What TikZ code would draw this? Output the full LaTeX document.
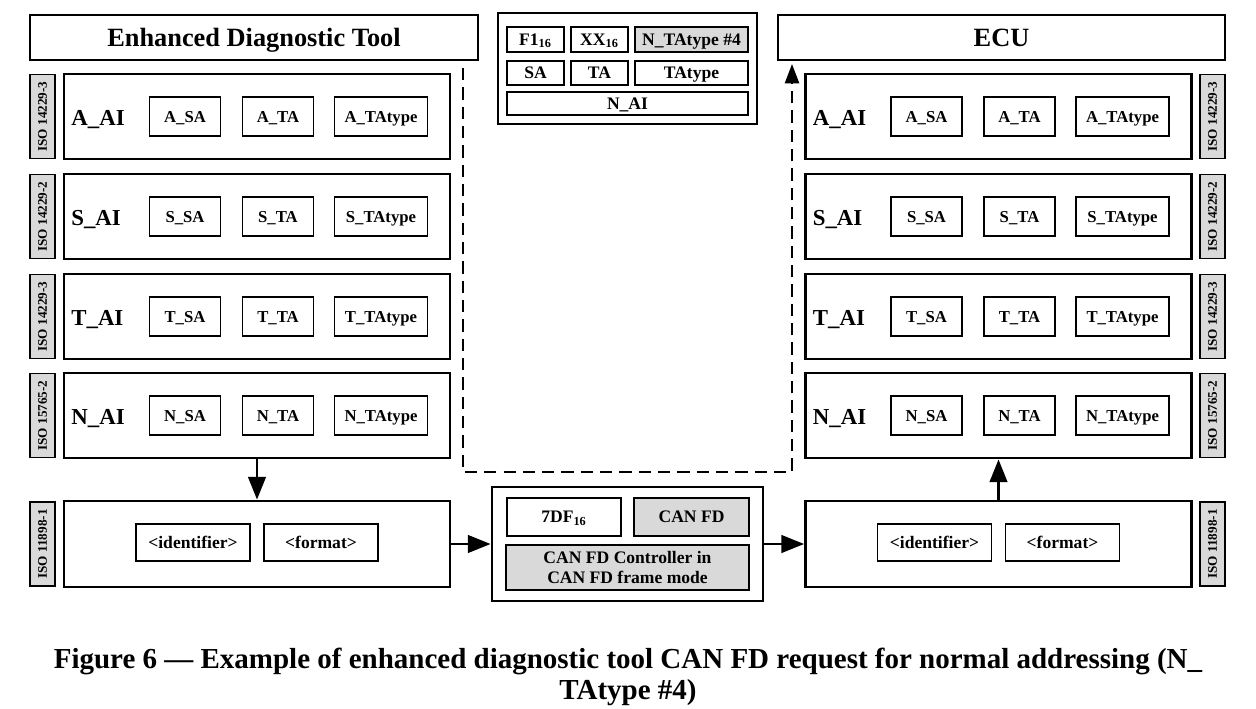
\documentclass[tikz,border=0pt]{standalone}
\usepackage{fontspec}
\setmainfont{Liberation Serif}
\usepackage{tikz}
\usetikzlibrary{positioning, arrows.meta, calc}
\definecolor{cellgray}{HTML}{D9D9D9}

\tikzset{
  frame/.style={draw, line width=1.6pt, inner sep=0pt},
  title/.style={frame, minimum height=0.9cm, text height=9.9pt, text depth=0pt,
    font=\bfseries\fontsize{15}{17}\selectfont},
  layer/.style={frame, minimum width=7.72cm, minimum height=1.7cm},
  cell/.style={draw, line width=1pt, inner sep=0pt, text height=6.5pt, text depth=0pt,
    font=\bfseries\fontsize{9.5}{11}\selectfont},
  lbl/.style={inner sep=0pt, text height=8.6pt, text depth=0pt, font=\bfseries\fontsize{13}{15}\selectfont},
  isotag/.style={draw, fill=cellgray, line width=1pt, inner sep=0pt, rotate=90,
    text height=5pt, text depth=0pt,
    minimum width=1.68cm, minimum height=0.5cm, font=\bfseries\fontsize{7.5}{8}\selectfont},
  conn/.style={line width=1.6pt, -{Triangle[length=13pt, width=10pt]}},
  dashconn/.style={line width=1.3pt, dash pattern=on 7pt off 4pt, -{Triangle[length=11pt, width=8pt]}}
}

\begin{document}
\begin{tikzpicture}[x=0.02cm, y=-0.02cm]
    \useasboundingbox (0,0) rectangle (1256,709);

    % titles
    \node[title, minimum width=8.96cm] (tool) at (254,37.5) {Enhanced Diagnostic Tool};
    \node[title, minimum width=8.94cm] (ecu) at (1001.5,37.5) {ECU};

    % layer stacks of tool and ECU
    \foreach \side/\cx/\sx in {L/257/42.5, R/998.5/1212.5} {
      \foreach \y/\lay/\iso in {116.5/A/14229-3, 216.5/S/14229-2, 316.5/T/14229-3, 415.5/N/15765-2} {
        \node[layer] (\side-\lay) at (\cx,\y) {};
        \node[lbl, anchor=west] (\side-\lay-name) at (\cx-186,\y+1) {\lay\_AI};
        \node[cell, minimum width=1.42cm, minimum height=0.78cm] (\side-\lay-sa) at (\cx-72,\y) {\lay\_SA};
        \node[cell, minimum width=1.42cm, minimum height=0.78cm] (\side-\lay-ta) at (\cx+21,\y) {\lay\_TA};
        \node[cell, minimum width=1.86cm, minimum height=0.78cm] (\side-\lay-tt) at (\cx+124,\y) {\lay\_TAtype};
        \node[isotag] (\side-\lay-iso) at (\sx,\y) {ISO \iso};
      }
      \node[layer, minimum height=1.72cm] (\side-phy) at (\cx,544) {};
      \node[cell, minimum width=2.28cm, minimum height=0.74cm, font=\bfseries\fontsize{10}{12}\selectfont]
        (\side-id) at (\cx-64,542.5) {<identifier>};
      \node[cell, minimum width=2.28cm, minimum height=0.74cm, font=\bfseries\fontsize{10}{12}\selectfont]
        (\side-fmt) at (\cx+64,542.5) {<format>};
      \node[isotag] (\side-phy-iso) at (\sx,544) {ISO 11898-1};
    }

    % N_PDU addressing fields
    \node[frame, minimum width=5.18cm, minimum height=2.22cm] (npdu) at (627.5,68.5) {};
    \node[cell, minimum width=1.14cm, minimum height=0.5cm, font=\bfseries\fontsize{10}{12}\selectfont]
      (f1) at (535.5,39.5) {F1\textsubscript{16}};
    \node[cell, minimum width=1.14cm, minimum height=0.5cm, font=\bfseries\fontsize{10}{12}\selectfont]
      (xx) at (599.5,39.5) {XX\textsubscript{16}};
    \node[cell, fill=cellgray, minimum width=2.26cm, minimum height=0.5cm, font=\bfseries\fontsize{10}{12}\selectfont]
      (nt4) at (691.5,39.5) {N\_TAtype \#4};
    \node[cell, minimum width=1.14cm, minimum height=0.48cm, font=\bfseries\fontsize{10}{12}\selectfont]
      (sa) at (535.5,73) {SA};
    \node[cell, minimum width=1.14cm, minimum height=0.48cm, font=\bfseries\fontsize{10}{12}\selectfont]
      (ta) at (599.5,73) {TA};
    \node[cell, minimum width=2.26cm, minimum height=0.48cm, font=\bfseries\fontsize{10}{12}\selectfont]
      (tatype) at (691.5,73) {TAtype};
    \node[cell, minimum width=4.82cm, minimum height=0.46cm, font=\bfseries\fontsize{10}{12}\selectfont]
      (nai) at (627.5,103.5) {N\_AI};

    % CAN FD bus frame
    \node[frame, minimum width=5.42cm, minimum height=2.28cm] (bus) at (627.5,544) {};
    \node[cell, minimum width=2.28cm, minimum height=0.76cm, font=\bfseries\fontsize{10}{12}\selectfont]
      (canid) at (564,517) {7DF\textsubscript{16}};
    \node[cell, fill=cellgray, minimum width=2.3cm, minimum height=0.76cm, font=\bfseries\fontsize{10}{12}\selectfont]
      (canfd) at (691.5,517) {CAN FD};
    \node[draw, line width=1pt, inner sep=0pt, fill=cellgray, minimum width=4.86cm, minimum height=0.9cm, align=center,
      font=\bfseries\fontsize{10}{11.5}\selectfont]
      (ctrl) at (627.5,567.5) {CAN FD Controller in\\CAN FD frame mode};

    % connectors
    \draw[conn] (L-N) -- (L-phy);
    \draw[conn] (L-phy) -- (bus);
    \draw[conn] (bus) -- (R-phy);
    \draw[conn] (R-phy) -- (R-N);
    \coordinate (dstart) at (463,68);
    \coordinate (dturn) at (792,472);
    \coordinate (dend) at (792,64);
    \draw[dashconn] (dstart) |- (dturn) -- (dend);

    % caption
    \node[align=center, font=\bfseries\fontsize{16.5}{17.5}\selectfont] (caption) at (628,677)
      {Figure 6 — Example of enhanced diagnostic tool CAN FD request for normal addressing (N\_\\TAtype \#4)};
\end{tikzpicture}
\end{document}
